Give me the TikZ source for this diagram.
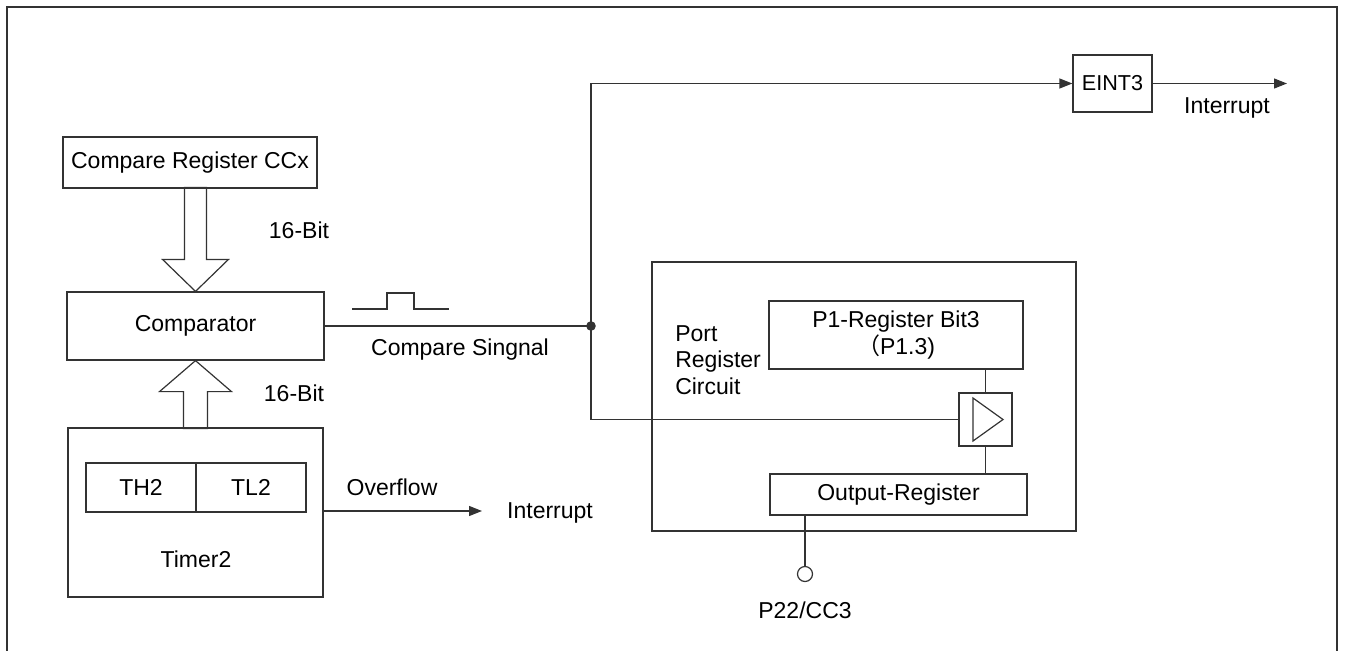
\documentclass[tikz,border=0pt]{standalone}
\usepackage{fontspec}
\setmainfont{Liberation Sans}
\newfontfamily\cjk{Noto Sans CJK SC}
\usetikzlibrary{arrows.meta}
\colorlet{Line}{black!80}
\begin{document}
\begin{tikzpicture}[
  x=0.5pt,
  y=-0.5pt,
  line width=0.6pt,
  Line,
  every node/.style={text=black,font=\fontsize{11.5}{13.25}\selectfont},
  box/.style={draw,inner sep=0mm,align=center},
  sig/.style={-{Triangle[length=6.5pt,width=5pt]}}]
\useasboundingbox (0,0) rectangle (1345,650);
\draw (7,660) -- (7,7) -- (1337,7) -- (1337,660);
\begin{scope}[every node/.append style={box}]
\draw
  (190,162.5) node[minimum width=127pt,minimum height=25.5pt] (ccx) {Compare Register CCx}
  (195.5,326) node[minimum width=128.5pt,minimum height=34pt] (cmp) {Comparator}
  (195.5,512.5) node[minimum width=127.5pt,minimum height=84.5pt] (timer) {}
  (141,487.5) node[minimum width=55pt,minimum height=24.5pt] (th) {TH2}
  (251,487.5) node[minimum width=55pt,minimum height=24.5pt] (tl) {TL2}
  (1112.5,83.5) node[minimum width=39.5pt,minimum height=28.5pt,font=\fontsize{10.8}{12}\selectfont] (eint) {EINT3}
  (864,396.5) node[minimum width=212pt,minimum height=134.5pt] (port) {}
  (896,335) node[minimum width=127pt,minimum height=34pt] (p1) {P1-Register Bit3\\{\cjk （}P1.3)}
  (985.5,419.5) node[minimum width=26.5pt,minimum height=26.5pt] (buf) {}
  (898.5,494.5) node[minimum width=128.5pt,minimum height=20.5pt] (outr) {Output-Register}
  (805,574) node[circle,minimum size=7.5pt] (pin) {}
  ;
  \end{scope}
% labels
\draw
  (196,559) node (tmrlbl) {Timer2}
  (299,230) node (bitA) {16-Bit}
  (294,393) node (bitB) {16-Bit}
  (460,350) node (cmplbl) {Compare Singnal}
  (392,487) node (ovflbl) {Overflow}
  (550,513) node (irqA) {Interrupt}
  (1227,108) node (irqB) {Interrupt}
  (668,360) node[anchor=west,align=left] (portlbl) {Port\\Register\\Circuit}
  (805,610) node (pinlbl) {P22/CC3}
  ;
% 16-bit buses
\draw (cmp.north) --++(-33,-32) --++(22,0) --++(0,-72) --++(22,0)
  --++(0,72) --++(22,0) -- cycle;
\draw (cmp.south) --++(-36,31) --++(24,0) --++(0,37) --++(24,0)
  --++(0,-37) --++(24,0) -- cycle;
% compare signal
\coordinate (jn) at (591,326);
\coordinate (eout) at (1287,83.5);
\coordinate (ovf) at (482,511);
\draw (cmp.east) -- (jn);
\fill (jn) circle (2.4pt);
\draw (352,309) -| (387,293) -| (414,309) -- (449,309);
\draw[sig] (jn) |- (eint.west);
\draw[sig] (eint.east) -- (eout);
\draw (jn) |- (buf.west);
\draw[sig] (timer.east |- ovf) -- (ovf);
% port circuit
\draw (buf.center) ++(-12.5,-21.5) --++(30,21.5) --++(-30,21.5) -- cycle;
\draw (buf.north) -- (buf.north |- p1.south);
\draw (buf.south) -- (buf.south |- outr.north);
\draw (pin) -- (pin |- outr.south);
\end{tikzpicture}
\end{document}
